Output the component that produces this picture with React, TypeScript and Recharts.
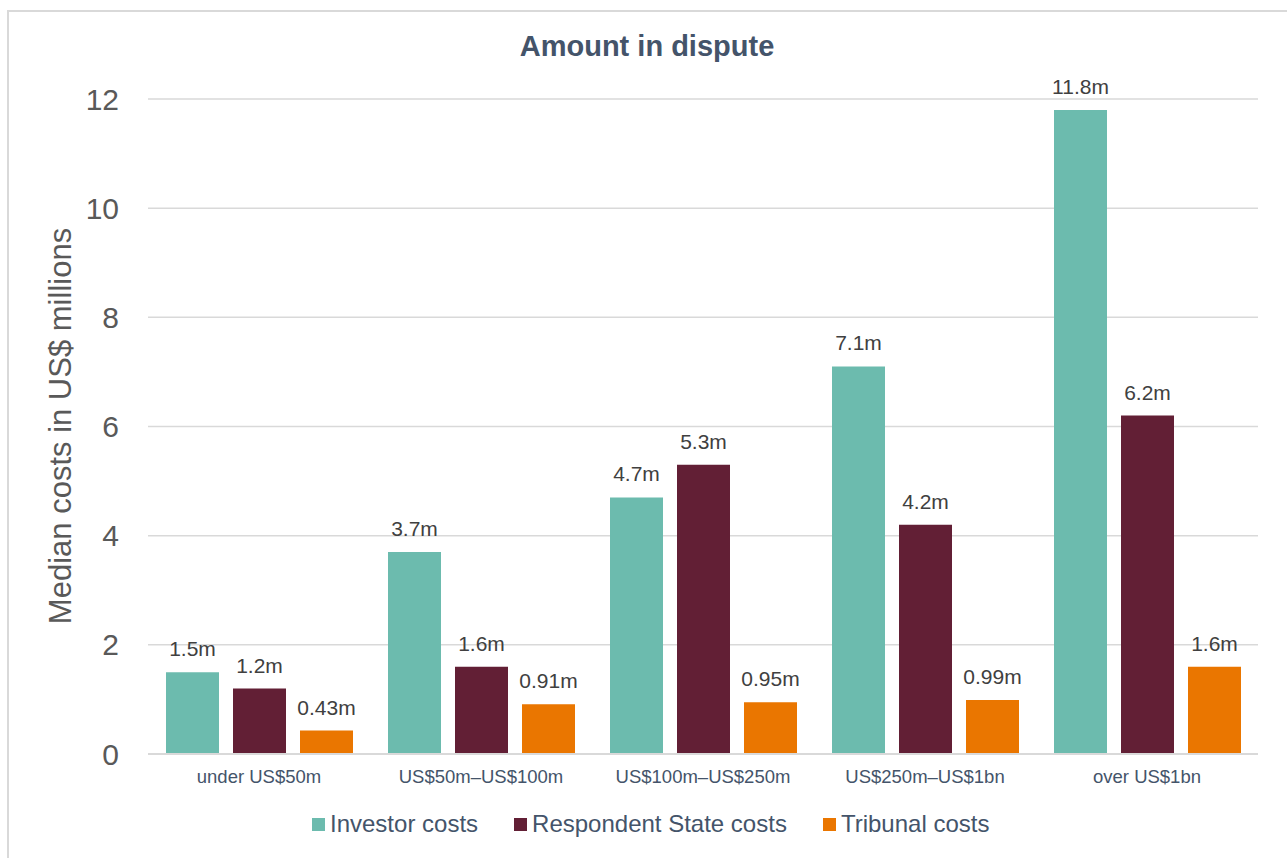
import React from 'react';
import { BarChart, Bar, XAxis, YAxis, CartesianGrid, LabelList } from 'recharts';

const categories = ['under US$50m', 'US$50m–US$100m', 'US$100m–US$250m', 'US$250m–US$1bn', 'over US$1bn'];
const investorCosts = [1.5, 3.7, 4.7, 7.1, 11.8];
const respondentCosts = [1.2, 1.6, 5.3, 4.2, 6.2];
const tribunalCosts = [0.43, 0.91, 0.95, 0.99, 1.6];
const yTicks = [0, 2, 4, 6, 8, 10, 12];

const seriesNames = ['Investor costs', 'Respondent State costs', 'Tribunal costs'];
const seriesColors = ['#6CBBAE', '#621F35', '#EA7600'];

const data = categories.map((c, i) => ({
  category: c,
  investor: investorCosts[i],
  respondent: respondentCosts[i],
  tribunal: tribunalCosts[i],
}));

const FONT = '"Liberation Sans", Arial, sans-serif';

const LegendBox = () => (
  <div style={{ position: 'absolute', top: 810, left: 312, display: 'flex', alignItems: 'center', fontFamily: FONT, fontSize: 24, color: '#44546A', whiteSpace: 'nowrap' }}>
    {seriesNames.map((n, i) => (
      <div key={n} style={{ display: 'flex', alignItems: 'center', marginRight: 36 }}>
        <span style={{ display: 'inline-block', width: 13, height: 13, background: seriesColors[i], marginRight: 5 }} />
        <span>{n}</span>
      </div>
    ))}
  </div>
);

const YLabel = () => (
  <text
    x={60}
    y={426}
    transform="rotate(-90 60 426)"
    textAnchor="middle"
    dominantBaseline="central"
    fill="#595959"
    fontSize={31}
    fontFamily={FONT}
  >
    Median costs in US$ millions
  </text>
);

const fmt = (v: any) => `${v}m`;

export default function App() {
  return (
    <div style={{ position: 'absolute', left: 0, top: 0, width: 1287, height: 858, overflow: 'hidden', background: '#fff' }}>
      <div style={{ position: 'absolute', left: 7, top: 10, width: 1320, height: 900, border: '2px solid #D9D9D9', boxSizing: 'border-box' }} />
      <div style={{ position: 'absolute', left: 0, top: 30, width: 1294, textAlign: 'center', fontFamily: FONT, fontWeight: 'bold', fontSize: 29, color: '#44546A' }}>
        Amount in dispute
      </div>
      <div style={{ position: 'absolute', left: 0, top: 0 }}>
        <BarChart
          width={1287}
          height={858}
          data={data}
          margin={{ top: 99, right: 29, bottom: 74, left: 88 }}
          barGap={14}
          barCategoryGap={18}
        >
          <CartesianGrid vertical={false} stroke="#D9D9D9" strokeWidth={1.5} />
          <XAxis
            dataKey="category"
            height={30}
            tickLine={false}
            tickSize={0}
            tickMargin={16}
            axisLine={{ stroke: '#D9D9D9', strokeWidth: 2 }}
            tick={{ fill: '#44546A', fontSize: 18.5, fontFamily: FONT }}
            interval={0}
          />
          <YAxis
            width={60}
            domain={[0, 12]}
            ticks={yTicks}
            tickLine={false}
            axisLine={false}
            tickSize={0}
            tickMargin={29}
            tick={{ fill: '#595959', fontSize: 30, fontFamily: FONT }}
            label={{ content: () => <YLabel /> }}
          />
          <Bar dataKey="investor" name={seriesNames[0]} fill={seriesColors[0]} isAnimationActive={false}>
            <LabelList dataKey="investor" position="top" offset={16} formatter={fmt} fill="#404040" fontSize={21} fontFamily={FONT} />
          </Bar>
          <Bar dataKey="respondent" name={seriesNames[1]} fill={seriesColors[1]} isAnimationActive={false}>
            <LabelList dataKey="respondent" position="top" offset={16} formatter={fmt} fill="#404040" fontSize={21} fontFamily={FONT} />
          </Bar>
          <Bar dataKey="tribunal" name={seriesNames[2]} fill={seriesColors[2]} isAnimationActive={false}>
            <LabelList dataKey="tribunal" position="top" offset={16} formatter={fmt} fill="#404040" fontSize={21} fontFamily={FONT} />
          </Bar>
        </BarChart>
      </div>
      <LegendBox />
    </div>
  );
}
